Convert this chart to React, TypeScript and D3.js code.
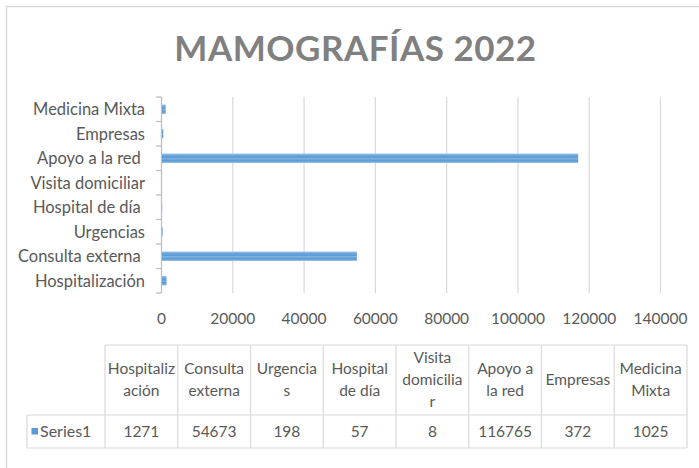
import React from "react";
import * as d3 from "d3";

// data (order as in the source table; y axis shows it bottom-up)
const categories = [
  "Hospitalización",
  "Consulta externa ",
  "Urgencias",
  "Hospital de día ",
  "Visita domiciliar",
  "Apoyo a la red ",
  "Empresas",
  "Medicina Mixta",
];
const series1 = [1271, 54673, 198, 57, 8, 116765, 372, 1025];
const seriesName = "Series1";
const headerLines = [
  ["Hospitaliz", "ación"],
  ["Consulta", "externa"],
  ["Urgencia", "s"],
  ["Hospital", "de día"],
  ["Visita", "domicilia", "r"],
  ["Apoyo a", "la red"],
  ["Empresas"],
  ["Medicina", "Mixta"],
];
const xTicks = [0, 20000, 40000, 60000, 80000, 100000, 120000, 140000];
const title = "MAMOGRAFÍAS 2022";

const W = 699;
const H = 468;
const FONT = "Lato, 'Open Sans', sans-serif";
const TXT = "#595959";

const App = () => {
  const x = d3.scaleLinear().domain([0, 140000]).range([161.5, 660.5]);
  const y = d3
    .scaleBand<string>()
    .domain(categories.slice().reverse())
    .range([97, 293])
    .paddingInner(0.61)
    .paddingOuter(0.305);

  // band boundaries for the little axis ticks
  const step = 196 / categories.length;
  const bounds = d3.range(categories.length + 1).map((i) => 97 + i * step);

  // data table
  const tblLeft = 27;
  const colLeft = 105;
  const colRight = 687;
  const col = d3
    .scaleBand<number>()
    .domain(d3.range(categories.length))
    .range([colLeft, colRight]);
  const tTop = 345;
  const tMid = 415;
  const tBot = 448;

  return (
    <svg
      width={W}
      height={H}
      style={{ position: "absolute", left: 0, top: 0, background: "#fff" }}
      fontFamily={FONT}
    >
      <defs>
        <linearGradient id="barg" x1="0" y1="0" x2="0" y2="1">
          <stop offset="0" stopColor="#a9cbeb" />
          <stop offset="0.18" stopColor="#6ea6dc" />
          <stop offset="0.45" stopColor="#5b9bd5" />
          <stop offset="0.55" stopColor="#8ab8e4" />
          <stop offset="0.68" stopColor="#5b9bd5" />
          <stop offset="0.85" stopColor="#6aa3da" />
          <stop offset="1" stopColor="#a9cbeb" />
        </linearGradient>
      </defs>

      {/* chart frame */}
      <path d={`M6.5,${H} V6.5 H${W}`} fill="none" stroke="#d9d9d9" strokeWidth={1.5} />

      <text
        x={355.5}
        y={61}
        textAnchor="middle"
        fontSize={35}
        fontWeight="bold"
        fill="#808080"
        letterSpacing={0.5}
      >
        {title}
      </text>

      {/* gridlines */}
      {xTicks.slice(1).map((t) => (
        <line key={t} x1={x(t)} x2={x(t)} y1={97} y2={293} stroke="#d9d9d9" strokeWidth={1.2} />
      ))}

      {/* y axis */}
      <line x1={161.5} x2={161.5} y1={97} y2={293} stroke="#bfbfbf" strokeWidth={1.3} />
      {bounds.map((b, i) => (
        <line key={i} x1={156} x2={161.5} y1={b} y2={b} stroke="#bfbfbf" strokeWidth={1.3} />
      ))}

      {/* bars */}
      {categories.map((c, i) => (
        <rect
          key={c}
          x={x(0) + 0.5}
          y={y(c)}
          width={Math.max(0, x(series1[i]) - x(0))}
          height={y.bandwidth()}
          fill="url(#barg)"
        />
      ))}

      {/* category labels */}
      {categories.map((c) => (
        <text
          key={c}
          x={145}
          y={(y(c) ?? 0) + y.bandwidth() / 2}
          dy="0.35em"
          textAnchor="end"
          fontSize={16.5}
          fill={TXT}
          style={{ whiteSpace: "pre" }}
        >
          {c}
        </text>
      ))}

      {/* x tick labels */}
      {xTicks.map((t) => (
        <text key={t} x={x(t)} y={319} dy="0.35em" textAnchor="middle" fontSize={15.5} fill={TXT}>
          {t}
        </text>
      ))}

      {/* data table */}
      <g stroke="#d9d9d9" strokeWidth={1.2} fill="none">
        <line x1={colLeft} x2={colRight} y1={tTop} y2={tTop} />
        <line x1={tblLeft} x2={colRight} y1={tMid} y2={tMid} />
        <line x1={tblLeft} x2={colRight} y1={tBot} y2={tBot} />
        <line x1={tblLeft} x2={tblLeft} y1={tMid} y2={tBot} />
        {d3.range(categories.length + 1).map((i) => {
          const cx = i < categories.length ? (col(i) as number) : colRight;
          return <line key={i} x1={cx} x2={cx} y1={tTop} y2={tBot} />;
        })}
      </g>

      {headerLines.map((lines, i) => {
        const cx = (col(i) as number) + col.bandwidth() / 2;
        const lh = 22;
        const cy = (tTop + tMid) / 2 - ((lines.length - 1) * lh) / 2;
        return (
          <text key={i} textAnchor="middle" fontSize={15.5} fill={TXT}>
            {lines.map((l, j) => (
              <tspan key={j} x={cx} y={cy + j * lh} dy="0.35em">
                {l}
              </tspan>
            ))}
          </text>
        );
      })}

      <rect x={31.5} y={428} width={6.5} height={6.5} fill="#5b9bd5" />
      <text x={40} y={(tMid + tBot) / 2} dy="0.35em" fontSize={16} fill={TXT}>
        {seriesName}
      </text>
      {series1.map((v, i) => (
        <text
          key={i}
          x={(col(i) as number) + col.bandwidth() / 2}
          y={(tMid + tBot) / 2}
          dy="0.35em"
          textAnchor="middle"
          fontSize={15.5}
          fill={TXT}
        >
          {v}
        </text>
      ))}
    </svg>
  );
};

export default App;
